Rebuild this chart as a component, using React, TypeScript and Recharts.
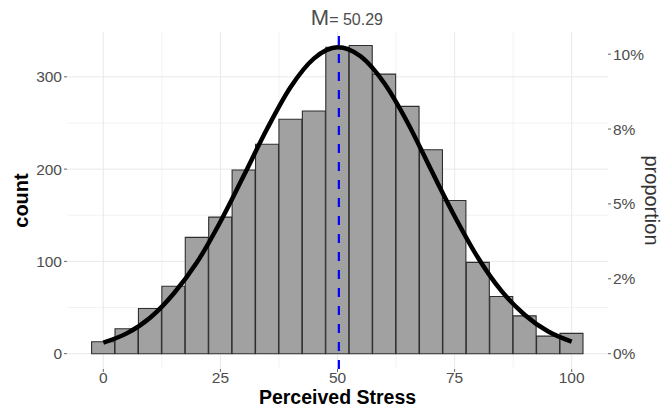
import { Bar, CartesianGrid, ComposedChart, Label, Line, ReferenceLine, XAxis, YAxis } from 'recharts'

// histogram bins (width 5) of perceived stress scores
const binCenters = [0, 5, 10, 15, 20, 25, 30, 35, 40, 45, 50, 55, 60, 65, 70, 75, 80, 85, 90, 95, 100]
const binCounts = [13, 27, 49, 73, 126, 148, 199, 227, 254, 263, 332, 334, 303, 268, 221, 166, 99, 62, 41, 19, 22]
// fitted normal curve read at the bin centres, in counts
const curveCounts = [12, 22, 39, 65, 99, 143, 193, 244, 289, 320, 332, 322, 293, 250, 199, 149, 104, 68, 42, 24, 13]
const meanStress = 50.29

const xTicks = [0, 25, 50, 75, 100]
const xMinorGrid = [12.5, 37.5, 62.5, 87.5]
const countTicks = [0, 100, 200, 300]
const countMinorGrid = [50, 150, 250]
const proportionTicks = [0, 0.025, 0.05, 0.075, 0.1]
const proportionLabels = ['0%', '2%', '5%', '8%', '10%']

const total = binCounts.reduce((a, b) => a + b, 0)
const xDomain: [number, number] = [-7.75, 107.75]
const countDomain: [number, number] = [-16.6, 348.6]
const proportionDomain: [number, number] = [countDomain[0] / total, countDomain[1] / total]

const data = binCenters.map((x, i) => ({ x, count: binCounts[i], curve: curveCounts[i] }))

const FONT = '"Liberation Sans", Arial, Helvetica, sans-serif'
const tickStyle = { fill: '#4d4d4d', fontSize: 15.5, fontFamily: FONT }

function XTitle(props: any) {
  const { x, y, width } = props.viewBox
  return (
    <text x={x + width / 2} y={y + 35} textAnchor="middle" fontSize={19.5} fontWeight={700} fill="#000" fontFamily={FONT}>
      Perceived Stress
    </text>
  )
}

function CountTitle(props: any) {
  const { x, y, height } = props.viewBox
  const cx = x + 28
  const cy = y + height / 2
  return (
    <text x={cx} y={cy} transform={`rotate(-90 ${cx} ${cy})`} textAnchor="middle" fontSize={20} fontWeight={700} fill="#000" fontFamily={FONT}>
      count
    </text>
  )
}

function ProportionTitle(props: any) {
  const { x, y, height } = props.viewBox
  const cx = x + 37
  const cy = y + height / 2
  return (
    <text x={cx} y={cy} transform={`rotate(90 ${cx} ${cy})`} textAnchor="middle" fontSize={20} fill="#333" fontFamily={FONT}>
      proportion
    </text>
  )
}

function MeanLabel(props: any) {
  const { x, y } = props.viewBox
  return (
    <text x={x - 28} y={y - 7} fill="#4d4d4d" fontFamily={FONT}>
      <tspan fontSize={22}>M</tspan>
      <tspan fontSize={16}>= {meanStress.toFixed(2)}</tspan>
    </text>
  )
}

export default function App() {
  return (
    <div style={{ position: 'absolute', left: 0, top: 0, width: 668, height: 408, background: '#fff' }}>
      <ComposedChart
        width={668}
        height={408}
        data={data}
        margin={{ top: 32, right: 0, bottom: 0, left: 0 }}
        barCategoryGap={0}
        barGap={0}
      >
        <CartesianGrid stroke="#f3f3f3" strokeWidth={1} verticalValues={xMinorGrid} horizontalValues={countMinorGrid} yAxisId="count" />
        <CartesianGrid stroke="#e9e9e9" strokeWidth={1} verticalValues={xTicks} horizontalValues={countTicks} yAxisId="count" />
        <XAxis
          dataKey="x"
          type="number"
          domain={xDomain}
          ticks={xTicks}
          allowDataOverflow
          height={39}
          axisLine={false}
          tickSize={3}
          tickMargin={0}
          tickLine={{ stroke: '#666' }}
          tick={tickStyle}
        >
          <Label content={XTitle} />
        </XAxis>
        <YAxis
          yAxisId="count"
          domain={countDomain}
          ticks={countTicks}
          allowDataOverflow
          width={67}
          axisLine={false}
          tickSize={3}
          tickLine={{ stroke: '#666' }}
          tick={tickStyle}
        >
          <Label content={CountTitle} />
        </YAxis>
        <YAxis
          yAxisId="prop"
          orientation="right"
          domain={proportionDomain}
          ticks={proportionTicks}
          tickFormatter={(v: number) => proportionLabels[proportionTicks.indexOf(v)] ?? ''}
          allowDataOverflow
          width={60}
          axisLine={false}
          tickSize={3}
          tickLine={{ stroke: '#666' }}
          tick={tickStyle}
        >
          <Label content={ProportionTitle} />
        </YAxis>
        <Bar yAxisId="count" dataKey="count" fill="#a1a1a1" stroke="#2e2e2e" strokeWidth={1.1} isAnimationActive={false} />
        <Line
          yAxisId="count"
          dataKey="curve"
          type="monotone"
          stroke="#000"
          strokeWidth={4.5}
          dot={false}
          isAnimationActive={false}
        />
        <ReferenceLine
          yAxisId="count"
          x={meanStress}
          stroke="#0000ff"
          strokeWidth={2.2}
          strokeDasharray="9 9"
          label={MeanLabel}
        />
      </ComposedChart>
    </div>
  )
}
